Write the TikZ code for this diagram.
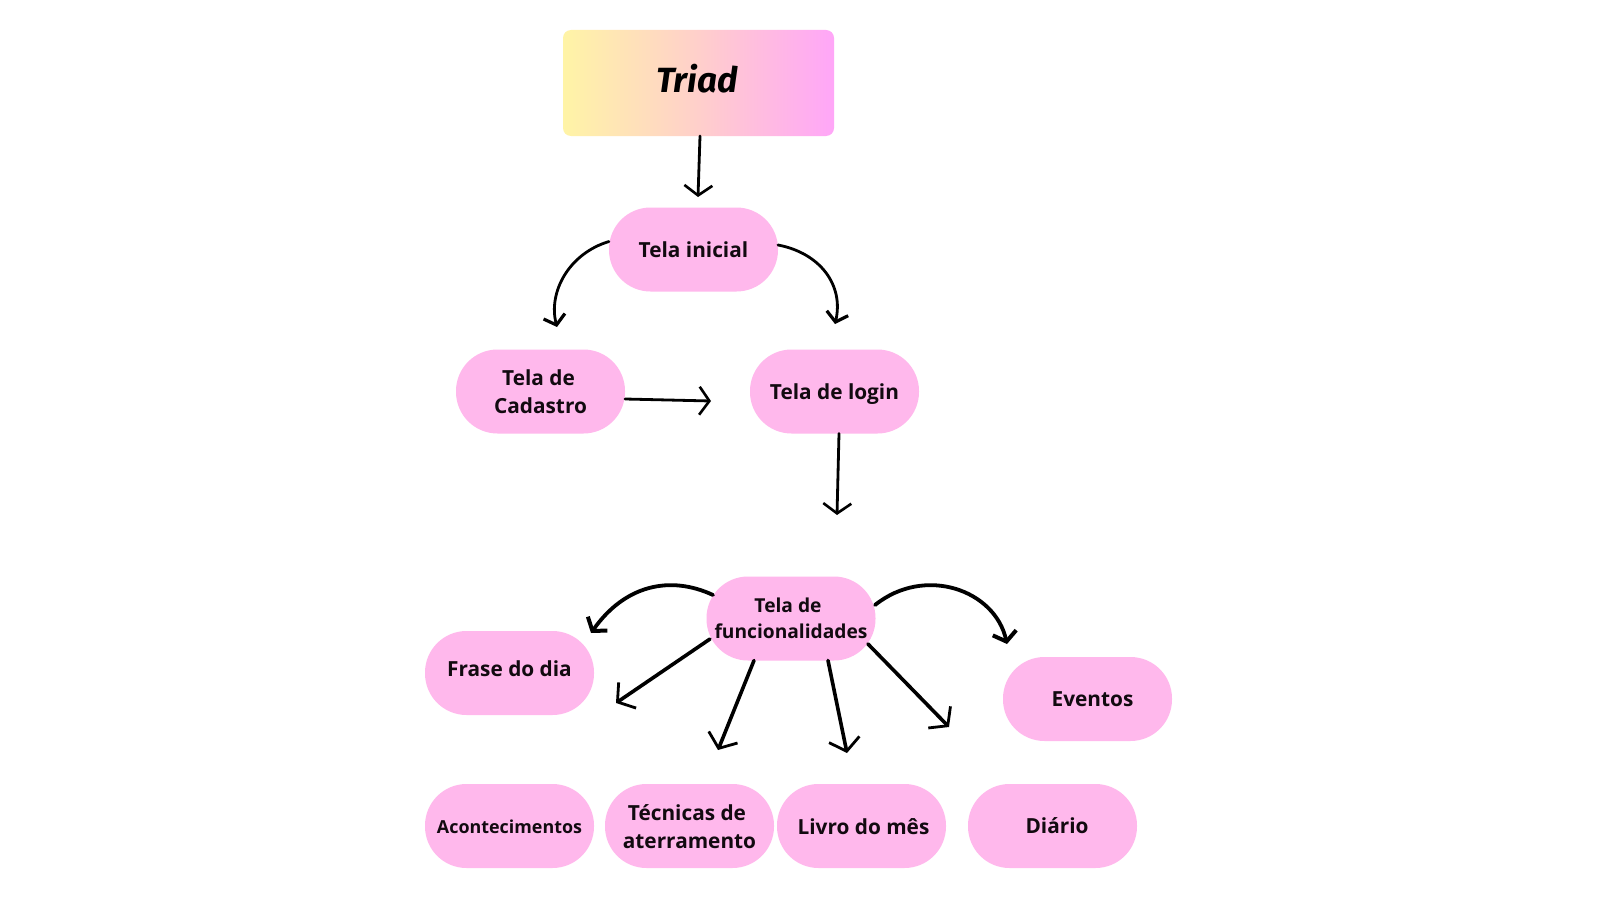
\documentclass[tikz,border=0pt]{standalone}
\usepackage{fontspec}
\setmainfont{Open Sans}
\newfontfamily\triadfont{Fira Sans}
\usetikzlibrary{arrows.meta,shadings}
\definecolor{pill}{HTML}{FFB8EC}
\definecolor{ink}{HTML}{120A10}
\definecolor{triadA}{HTML}{FFF4A6}
\definecolor{triadM}{HTML}{FFCFCB}
\definecolor{triadB}{HTML}{FFA6F8}
\newcommand\nudge[2]{\raisebox{#1}[\height][\depth]{#2}}
\tikzset{
 pillbox/.style={draw=none,fill=pill,rounded corners=41.5pt,minimum width=169pt,minimum height=84pt,inner sep=0pt,align=center,text=ink,font=\fontsize{20.8}{28.5}\selectfont\bfseries},
 link/.style={draw=black,line width=2.8pt,line cap=round,-{Straight Barb[length=10pt,width=28pt,line width=2.6pt]}},
 curvelink/.style={link,-{Straight Barb[length=9pt,width=22pt,line width=3.2pt]}},
 heavylink/.style={link,line width=3.8pt,-{Straight Barb[length=9pt,width=24pt,line width=4pt]}},
 spokelink/.style={link,line width=3.6pt,-{Straight Barb[length=12pt,width=31pt,line width=2.8pt]}},
}
\begin{document}
\begin{tikzpicture}[x=1pt,y=-1pt]
\useasboundingbox[fill=white] (0,0) rectangle (1599,899);
\node[rounded corners=8pt,minimum width=271pt,minimum height=106pt,left color=triadA,right color=triadB,middle color=triadM,draw=none,inner sep=0pt,font=\triadfont\fontsize{35}{35}\selectfont\bfseries\itshape] (triad) at (698.5,83) {\nudge{4.5pt}{Triad\hspace*{3pt}}};
\node[pillbox] (inicial) at (693.5,249.5) {Tela inicial};
\node[pillbox] (cadastro) at (540.5,391.5) {Tela de\hspace*{4pt}\\Cadastro};
\node[pillbox] (login) at (834.5,391.5) {\nudge{-3pt}{Tela de login}};
\node[pillbox,font=\fontsize{19.2}{26.5}\selectfont\bfseries] (func) at (791,618.5) {Tela de\hspace*{6pt}\\funcionalidades};
\node[pillbox] (frase) at (509.5,673) {\nudge{4pt}{Frase do dia}};
\node[pillbox] (eventos) at (1087.5,699) {\hspace*{10pt}Eventos};
\node[pillbox,font=\fontsize{17.9}{24}\selectfont\bfseries] (acont) at (509.5,826) {\nudge{-1pt}{Acontecimentos}};
\node[pillbox] (tecnicas) at (689.5,826) {\nudge{-1pt}{Técnicas de}\hspace*{5pt}\\aterramento};
\node[pillbox] (livro) at (861.5,826) {\nudge{-1pt}{\hspace*{4pt}Livro do mês}};
\node[pillbox] (diario) at (1052.5,826) {\hspace*{9pt}Diário};
\coordinate (e1) at (698,197);
\coordinate (e2) at (557,327);
\coordinate (e3) at (835,324);
\coordinate (e4) at (711,401);
\coordinate (e5) at (837,515);
\coordinate (e6) at (591,633);
\coordinate (e7) at (1007,644);
\coordinate (e8) at (616,703);
\coordinate (e9) at (718,750);
\coordinate (e10) at (847,753);
\coordinate (e11) at (949,727);
\draw[link] ([shift={(1.5,53)}]triad.center) -- (e1);
\draw[curvelink] ([shift={(-84.5,-8)}]inicial.center) .. controls +(-40,12) and (548,292) .. (e2);
\draw[curvelink] ([shift={(84.5,-4.5)}]inicial.center) .. controls +(42,8) and (844,285) .. (e3);
\draw[link] ([shift={(84.5,7.5)}]cadastro.center) -- (e4);
\draw[link] ([shift={(4.5,42)}]login.center) -- (e5);
\draw[heavylink] ([shift={(-78,-23.5)}]func.center) .. controls (670,575) and (625,585) .. (e6);
\draw[heavylink] ([shift={(84,-13.5)}]func.center) .. controls (925,565) and (995,590) .. (e7);
\draw[spokelink] ([shift={(-81,20.5)}]func.center) -- (e8);
\draw[spokelink] ([shift={(-37,42)}]func.center) -- (e9);
\draw[spokelink] ([shift={(37,42)}]func.center) -- (e10);
\draw[spokelink] ([shift={(77,25.5)}]func.center) -- (e11);
\end{tikzpicture}
\end{document}
